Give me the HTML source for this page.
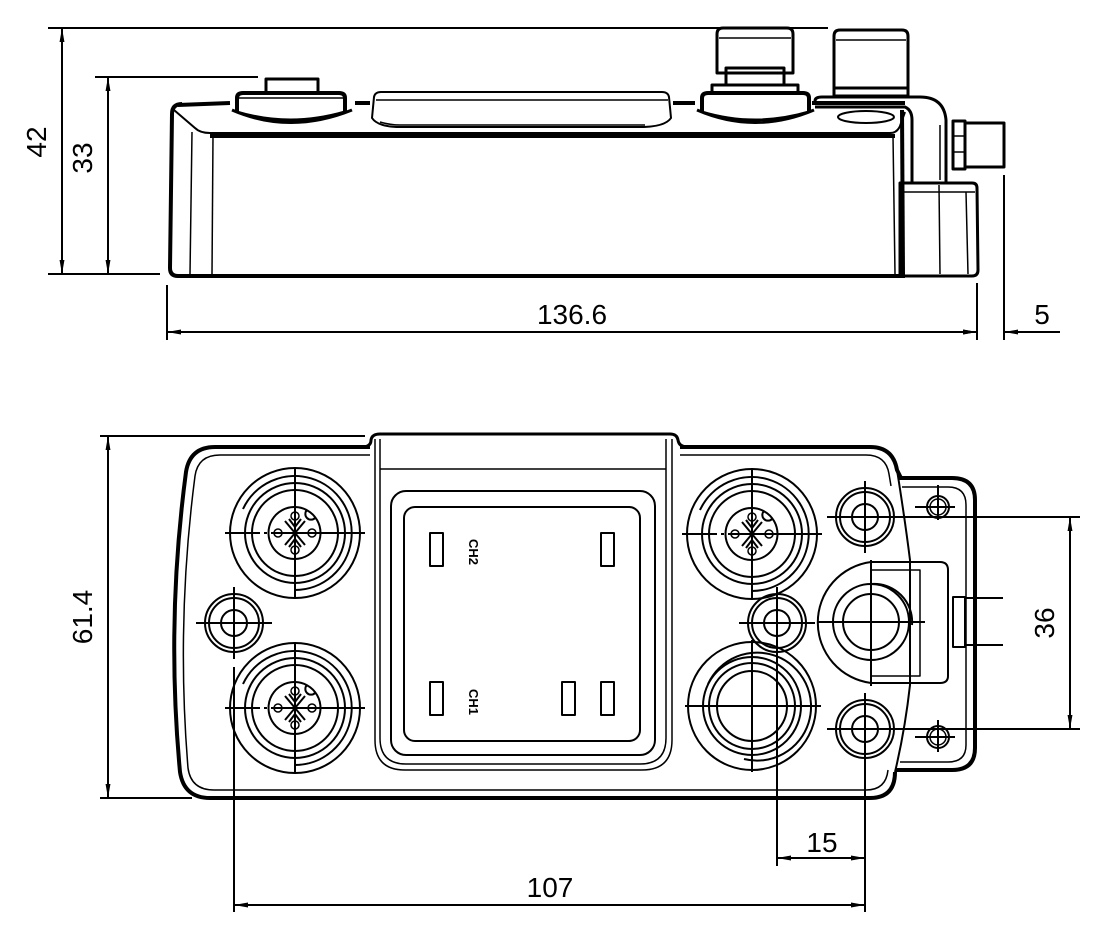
<!DOCTYPE html>
<html><head><meta charset="utf-8"><style>
html,body{margin:0;padding:0;background:#fff}
svg{display:block}
text{font-family:"Liberation Sans",sans-serif;fill:#000}
</style></head><body>
<svg width="1098" height="945" viewBox="0 0 1098 945" xmlns="http://www.w3.org/2000/svg">
<defs>
<marker id="b" viewBox="0 0 20 10" refX="20" refY="5" markerWidth="18" markerHeight="7" orient="auto-start-reverse" markerUnits="userSpaceOnUse"><path d="M0,1.5 L20,5 L0,8.5 z" fill="#000"/></marker>
<g id="m12" fill="none" stroke="#000">
 <circle r="65" stroke-width="2"/>
 <path d="M-52,-24 A57,57 0 1 1 0,57" stroke-width="2"/>
 <circle r="50" stroke-width="2"/>
 <circle r="43" stroke-width="2"/>
 <path d="M0,-26 A26,26 0 1 1 -1,-26 M12,-23 a5,5 0 0 0 8,8" stroke-width="2"/>
 <circle cx="0" cy="-17" r="4" stroke-width="1.5"/><circle cx="0" cy="17" r="4" stroke-width="1.5"/>
 <circle cx="-17" cy="0" r="4" stroke-width="1.5"/><circle cx="17" cy="0" r="4" stroke-width="1.5"/>
 <path d="M-10,-12 L10,12 M10,-12 L-10,12 M-6,-14 L0,-6 L6,-14 M-6,14 L0,6 L6,14" stroke-width="2"/>
 <path d="M-70,0 H-35 M-31,0 H-28 M-24,0 H70 M0,-66 V66" stroke-width="2"/>
</g>
<g id="hole" fill="none" stroke="#000" stroke-width="2">
 <circle r="29"/><circle r="25"/><circle r="13"/>
 <path d="M-38,0 H38 M0,-36 V36"/>
</g>
</defs>

<!-- ============ TOP VIEW ============ -->
<g fill="none" stroke="#000" stroke-linejoin="round">
 <line x1="48" y1="28" x2="828" y2="28" stroke-width="2"/>
 <line x1="95" y1="77" x2="258" y2="77" stroke-width="2"/>
 <line x1="48" y1="274" x2="160" y2="274" stroke-width="2"/>
 <line x1="62" y1="28" x2="62" y2="274" stroke-width="2" marker-start="url(#b)" marker-end="url(#b)"/>
 <line x1="108" y1="77" x2="108" y2="274" stroke-width="2" marker-start="url(#b)" marker-end="url(#b)"/>
 <path d="M178,105 L230,103 M355,103 L370,103 M673,103 L695,103 M812,103 L905,103" stroke-width="4"/>
 <path d="M172,114 Q172,104 182,104 M172,114 L170,268 Q170,276 178,276 L905,276" stroke-width="4"/>
 <path d="M174,110 L195,128 Q200,133 210,133 L890,133 Q897,133 900,126 L905,112" stroke-width="2"/>
 <line x1="210" y1="136" x2="895" y2="136" stroke-width="4"/>
 <line x1="192" y1="132" x2="190" y2="274" stroke-width="1.5"/>
 <line x1="213" y1="136" x2="212" y2="274" stroke-width="1.5"/>
 <line x1="893" y1="136" x2="895" y2="274" stroke-width="1.5"/>
 <line x1="902" y1="110" x2="903" y2="274" stroke-width="4"/>
 <rect x="266" y="79" width="52" height="14" stroke-width="3"/>
 <path d="M237,112 L237,98 Q237,93 243,93 L339,93 Q345,93 345,98 L345,112" stroke-width="4"/>
 <path d="M232,110 Q290,135 352,110 M237,112 Q290,128 345,112" stroke-width="3"/>
 <line x1="237" y1="98" x2="345" y2="98" stroke-width="1.5"/>
 <path d="M372,118 L374,97 Q375,92 381,92 L662,92 Q668,92 669,97 L671,118 Q665,127 640,127 L400,127 Q378,127 372,118 Z" stroke-width="2"/>
 <path d="M376,100 L668,100 M380,122 Q390,125 400,125 L645,125" stroke-width="1.5"/>
 <path d="M702,112 L702,98 Q702,93 708,93 L803,93 Q809,93 809,98 L809,112" stroke-width="4"/>
 <path d="M697,110 Q755,135 814,110 M702,112 Q755,128 809,112" stroke-width="3"/>
 <rect x="712" y="85" width="86" height="8" stroke-width="3"/>
 <rect x="726" y="68" width="58" height="17" stroke-width="3"/>
 <path d="M717,73 L717,34 Q717,28 723,28 L787,28 Q793,28 793,34 L793,73 Z" stroke-width="3"/>
 <line x1="719" y1="38" x2="791" y2="38" stroke-width="1.5"/>
 <path d="M834,95 L834,36 Q834,30 840,30 L902,30 Q908,30 908,36 L908,95" stroke-width="3"/>
 <line x1="836" y1="40" x2="906" y2="40" stroke-width="1.5"/>
 <rect x="834" y="88" width="74" height="8" stroke-width="3"/>
 <path d="M815,101 Q815,97 822,97 L920,97 Q944,97 946,120 L946,182" stroke-width="3"/>
 <path d="M815,107 L905,107 Q912,110 912,120 L912,182" stroke-width="3"/>
 <line x1="940" y1="125" x2="940" y2="180" stroke-width="1.5"/>
 <ellipse cx="866" cy="117" rx="28" ry="6" stroke-width="2"/>
 <rect x="953" y="121" width="12" height="48" stroke-width="3"/>
 <rect x="965" y="123" width="39" height="44" stroke-width="3"/>
 <line x1="953" y1="136" x2="965" y2="136" stroke-width="1.5"/>
 <line x1="953" y1="152" x2="965" y2="152" stroke-width="1.5"/>
 <path d="M900,276 L900,183 L972,183 Q977,183 977,188 L978,270 Q978,276 972,276 L900,276" stroke-width="3"/>
 <line x1="903" y1="192" x2="975" y2="192" stroke-width="1.5"/>
 <line x1="939" y1="185" x2="940" y2="274" stroke-width="1.5"/>
 <line x1="966" y1="192" x2="968" y2="274" stroke-width="1.5"/>
 <line x1="167" y1="285" x2="167" y2="340" stroke-width="2"/>
 <line x1="977" y1="283" x2="977" y2="340" stroke-width="2"/>
 <line x1="1004" y1="175" x2="1004" y2="340" stroke-width="2"/>
 <line x1="167" y1="332" x2="977" y2="332" stroke-width="2" marker-start="url(#b)" marker-end="url(#b)"/>
 <line x1="955" y1="332" x2="977" y2="332" stroke-width="2" marker-end="url(#b)"/>
 <line x1="1060" y1="332" x2="1004" y2="332" stroke-width="2" marker-end="url(#b)"/>
</g>
<text x="42" y="142" font-size="28" text-anchor="middle" transform="rotate(-90 42 142)" dy="4">42</text>
<text x="88" y="158" font-size="28" text-anchor="middle" transform="rotate(-90 88 158)" dy="4">33</text>
<text x="572" y="324" font-size="28" text-anchor="middle">136.6</text>
<text x="1042" y="324" font-size="28" text-anchor="middle">5</text>

<!-- ============ BOTTOM VIEW ============ -->
<g fill="none" stroke="#000" stroke-linejoin="round">
 <path d="M370,447 L215,447 Q190,447 186,472 Q166,622 180,772 Q184,798 210,798 L870,798 Q895,798 895,772" stroke-width="4"/>
 <path d="M680,447 L870,447 Q893,447 897,470 L901,478" stroke-width="4"/>
 <path d="M370,455 L220,455 Q198,455 195,476 Q176,622 188,768 Q191,790 214,790 L866,790 Q886,790 888,770" stroke-width="1.5"/>
 <path d="M680,455 L866,455 Q886,455 889,474 L891,486" stroke-width="1.5"/>
 <path d="M362,447 Q371,447 371,440 Q372,434 380,434 L670,434 Q677,434 678,440 Q679,447 688,447" stroke-width="3"/>
 <path d="M375,439 L375,740 Q375,770 405,770 L642,770 Q672,770 672,740 L672,439" stroke-width="1.5"/>
 <path d="M380,439 L380,738 Q380,764 406,764 L640,764 Q666,764 666,738 L666,439" stroke-width="1.5"/>
 <line x1="380" y1="469" x2="666" y2="469" stroke-width="1.5"/>
 <rect x="391" y="491" width="264" height="264" rx="15" stroke-width="2"/>
 <rect x="404" y="507" width="236" height="234" rx="11" stroke-width="2"/>
 <rect x="430" y="533" width="13" height="33" stroke-width="2"/>
 <rect x="601" y="533" width="13" height="33" stroke-width="2"/>
 <rect x="430" y="682" width="13" height="33" stroke-width="2"/>
 <rect x="562" y="682" width="13" height="33" stroke-width="2"/>
 <rect x="601" y="682" width="13" height="33" stroke-width="2"/>
 <path d="M898,478 L952,478 Q975,478 975,500 L975,748 Q975,770 952,770 L895,770" stroke-width="4"/>
 <path d="M902,487 L948,487 Q966,487 966,505 L966,745 Q966,762 948,762 L900,762" stroke-width="1.5"/>
 <path d="M897,470 Q905,520 910,560 L910,685 Q905,730 895,772" stroke-width="2"/>
 <path d="M871,562 L940,562 Q948,562 948,570 L948,676 Q948,683 940,683 L871,683 A61,61 0 0 1 871,562 Z" stroke-width="2"/>
 <path d="M871,570 L920,570 L920,676 L871,676" stroke-width="1.5"/>
 <circle cx="871" cy="622" r="38" stroke-width="2"/>
 <circle cx="871" cy="622" r="28" stroke-width="2"/>
 <path d="M871,584 A38,38 0 0 1 912,625" stroke-width="2"/>
 <path d="M818,622 H925 M871,560 V686" stroke-width="2"/>
 <rect x="953" y="597" width="12" height="50" stroke-width="2"/>
 <path d="M965,598 L1003,598 M965,645 L1003,645" stroke-width="2"/>
 <circle cx="938" cy="507" r="11" stroke-width="2"/><circle cx="938" cy="507" r="8" stroke-width="1.5"/>
 <circle cx="938" cy="737" r="11" stroke-width="2"/><circle cx="938" cy="737" r="8" stroke-width="1.5"/>
 <path d="M915,507 H955 M938,485 V520 M915,737 H955 M938,720 V752" stroke-width="2"/>
</g>
<use href="#m12" x="295" y="533"/>
<use href="#m12" x="295" y="708"/>
<use href="#m12" x="752" y="534"/>
<use href="#hole" x="234" y="623"/>
<use href="#hole" x="777" y="623"/>
<use href="#hole" x="865" y="517"/>
<use href="#hole" x="865" y="729"/>
<g fill="none" stroke="#000" stroke-width="2">
 <circle cx="752" cy="706" r="64"/><circle cx="752" cy="706" r="49"/><circle cx="752" cy="706" r="43"/>
 <path d="M708,684 A54,54 0 1 1 744,759"/>
 <circle cx="752" cy="706" r="35"/>
 <path d="M685,706 H821 M752,640 V772"/>
</g>
<text x="474" y="552" font-size="13" font-weight="bold" text-anchor="middle" transform="rotate(90 474 552)" dy="5">CH2</text>
<text x="474" y="702" font-size="13" font-weight="bold" text-anchor="middle" transform="rotate(90 474 702)" dy="5">CH1</text>
<g fill="none" stroke="#000" stroke-width="2">
 <line x1="100" y1="436" x2="365" y2="436"/>
 <line x1="100" y1="798" x2="192" y2="798"/>
 <line x1="108" y1="436" x2="108" y2="798" marker-start="url(#b)" marker-end="url(#b)"/>
 <line x1="865" y1="517" x2="1080" y2="517"/>
 <line x1="865" y1="729" x2="1080" y2="729"/>
 <line x1="1070" y1="517" x2="1070" y2="729" marker-start="url(#b)" marker-end="url(#b)"/>
 <line x1="234" y1="667" x2="234" y2="912"/>
 <line x1="777" y1="650" x2="777" y2="866"/>
 <line x1="865" y1="758" x2="865" y2="912"/>
 <line x1="777" y1="858" x2="865" y2="858" marker-start="url(#b)" marker-end="url(#b)"/>
 <line x1="234" y1="905" x2="865" y2="905" marker-start="url(#b)" marker-end="url(#b)"/>
</g>
<text x="88" y="617" font-size="28" text-anchor="middle" transform="rotate(-90 88 617)" dy="4">61.4</text>
<text x="1050" y="623" font-size="28" text-anchor="middle" transform="rotate(-90 1050 623)" dy="4">36</text>
<text x="822" y="852" font-size="28" text-anchor="middle">15</text>
<text x="550" y="897" font-size="28" text-anchor="middle">107</text>
</svg>
</body></html>
